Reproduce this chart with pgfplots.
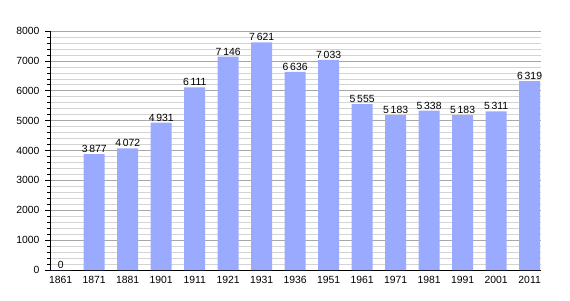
\documentclass[border=0pt]{standalone}
\usepackage{pgfplots}
\pgfplotsset{compat=1.18}
\usepackage{fontspec}
\setmainfont{Liberation Sans}
\definecolor{barblue}{HTML}{99AAFF}
\definecolor{majgrid}{HTML}{A8A8A8}
\definecolor{mingrid}{HTML}{D4D4D4}
\begin{document}
\begin{tikzpicture}[x=1pt,y=1pt]
\path[use as bounding box] (0,0) rectangle (570,300);
\begin{axis}[
  at={(50pt,30pt)}, anchor=south west,
  scale only axis, width=491pt, height=239pt,
  xmin=-0.32, xmax=14.34, ymin=0, ymax=8000,
  axis x line=bottom, axis y line=left,
  axis line style={-, line width=0.9pt, black},
  xtick={0,...,14},
  xticklabels={1861,1871,1881,1901,1911,1921,1931,1936,1951,1961,1971,1981,1991,2001,2011},
  xtick style={draw=none},
  ytick={0,1000,...,8000},
  minor y tick num=4,
  tick align=outside,
  major tick length=5pt, minor tick length=3pt,
  ytick style={black, line width=0.6pt},
  minor tick style={black, line width=0.6pt},
  ymajorgrids, yminorgrids,
  major grid style={majgrid, line width=0.6pt},
  minor grid style={mingrid, line width=0.6pt},
  ticklabel style={font=\fontsize{10.4}{12}\selectfont},
  yticklabel style={/pgf/number format/1000 sep={}, xshift=-2pt},
  xticklabel style={yshift=2pt},
  /pgf/number format/assume math mode=true,
  clip=false,
]
\addplot[ybar, bar width=21pt, fill=barblue, draw=none,
  nodes near coords,
  every node near coord/.append style={font=\fontsize{10.4}{12}\selectfont, inner sep=1.2pt, black,
    /pgf/number format/1000 sep={\,}, /pgf/number format/assume math mode=true},
] coordinates {
(0,0) (1,3877) (2,4072) (3,4931) (4,6111) (5,7146) (6,7621) (7,6636)
(8,7033) (9,5555) (10,5183) (11,5338) (12,5183) (13,5311) (14,6319)
};
\end{axis}
\end{tikzpicture}
\end{document}
